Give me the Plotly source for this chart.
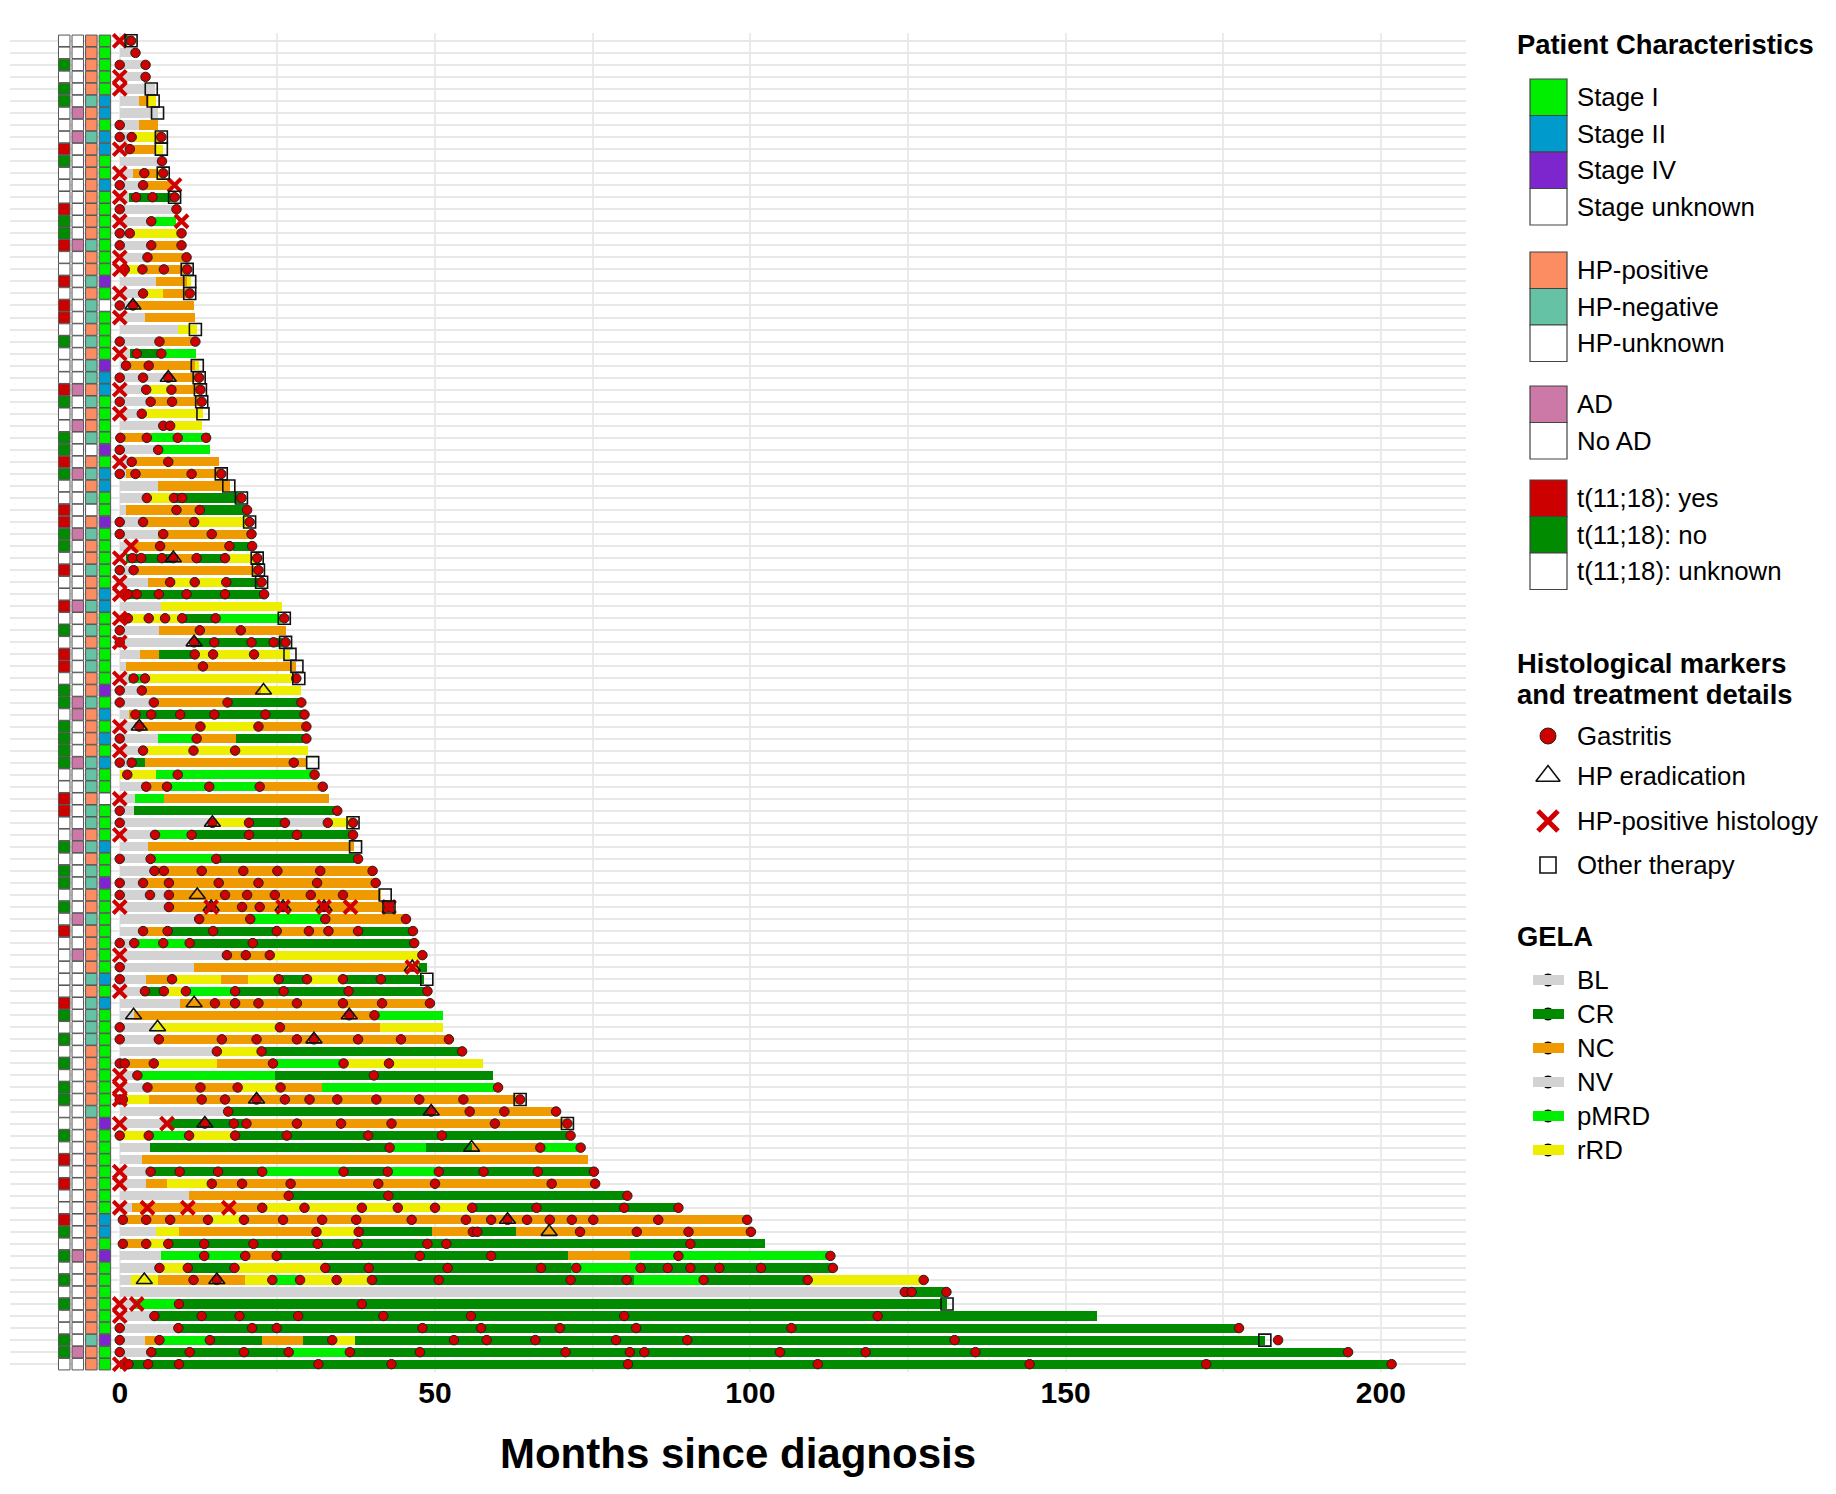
import plotly.graph_objects as go

W, H = 1836, 1494
FONT = "Liberation Sans"

# ---- patient characteristics, one code per patient, top row first ----
# t(11;18): Y yes, N no, U unknown
t1118 = list("UUNUNNUUUY" "NUUUYNNYUU" "YUYYUNUUUY" "NUUNNYNUUY" "YNNUYUUYUN"
             "UYYUNNUNNN" "NUUYYUUNUN" "NUNUYUUUUU" "YNUNUNUNNU" "UNUYUYUUYN"
             "UNUNUNUUNNU")
# autoimmune disease: A yes, N no
ad = list("NNNNNNANAN" "NNNNNNNANN" "NNNNNNNNNA" "NNANNNANNN" "NANNNNNANN"
          "NNNNNAANNN" "ANNNNNAANN" "NNNANNANNN" "NNNNNNNNNN" "NNNNNNNNNN"
          "NANNNNNNNAN")
# HP status: P positive, G negative, U unknown
hp = list("PPPPPGPPGP" "PPPPPPPGPP" "GPGGPGPGGP" "GPPGUPGPGU" "PGPPGPPGPG"
          "PGGPPGPPPP" "GGGPGGPGPG" "GPPGPPPPGP" "GGGGPPPPPG" "PPPPPPPPPP"
          "PPPPPPPPGPP")
# stage: 1 = I, 2 = II, 4 = IV, U unknown
stage = list("1111122122" "1121111111" "41U1111422" "1111412211" "4111112211"
             "1111412121" "211U111211" "4111111121" "2111111111" "4111111122"
             "14111111411")

# ---- GELA response over time: "status:end_month" segments from 0 ----
gela = [
    "NV:1 CR:2", "BL:2.3", "BL:4.1", "BL:4.1", "BL:5.6",
    "BL:3.1 NC:4.6 rRD:5.8", "BL:6.1", "BL:3.1 NC:6.1", "BL:1.9 rRD:5.8 NC:6.7",
    "BL:1.5 NC:5.8 rRD:6.8", "BL:6.7", "BL:2.1 NC:6.1 rRD:7.0", "BL:4.2 NC:8.2",
    "BL:1.5 CR:8.5", "BL:9.0", "BL:5.0 pMRD:9.0", "BL:1.6 rRD:9.8", "BL:5.0 NC:9.8",
    "BL:4.2 NC:10.6", "rRD:4.2 NC:10.3 rRD:11.0", "BL:5.8 NC:10.6 rRD:11.3",
    "BL:3.7 rRD:6.9 NC:10.6 rRD:11.3", "BL:2.3 NC:11.7", "BL:4.0 NC:12.0",
    "BL:9.3 rRD:12.3", "BL:6.3 NC:12.0", "BL:1.6 CR:6.6 pMRD:12.1",
    "BL:0.5 NC:12.0 rRD:12.5", "BL:7.7 NC:12.8", "BL:4.7 rRD:8.2 NC:12.9",
    "BL:5.3 NC:13.1", "BL:3.7 rRD:13.2", "BL:6.9 rRD:13.1", "NC:5.0 pMRD:14.3",
    "BL:6.1 pMRD:14.3", "BL:1.6 NC:15.8", "BL:1.0 NC:16.3", "BL:6.1 NC:17.5",
    "BL:4.5 rRD:8.6 CR:19.3", "BL:1.0 NC:12.7 CR:20.2", "BL:3.7 NC:12.2 rRD:20.6",
    "BL:6.1 NC:20.9", "BL:2.0 NC:17.9 CR:21.0", "BL:1.0 CR:8.5 NC:12.2 CR:16.7 rRD:21.6",
    "BL:2.6 NC:21.9", "BL:4.5 NC:8.0 rRD:17.4 CR:22.5", "BL:1.0 CR:22.9",
    "BL:6.6 rRD:25.8", "rRD:9.9 CR:15.2 pMRD:25.5", "BL:6.3 NC:26.3",
    "BL:12.0 CR:25.9", "BL:3.2 NC:6.3 CR:11.9 rRD:27.0", "BL:1.0 NC:28.0",
    "BL:1.5 pMRD:4.0 rRD:28.4", "BL:3.5 NC:22.4 rRD:28.7", "BL:5.4 NC:17.1 CR:28.8",
    "BL:1.5 NC:3.0 CR:29.3", "BL:2.5 NC:12.8 rRD:22.0 NC:29.6",
    "BL:6.1 pMRD:12.0 NC:18.4 CR:29.6", "BL:3.3 rRD:29.9", "BL:1.3 CR:4.0 NC:29.6",
    "rRD:5.7 pMRD:30.9", "BL:3.5 NC:7.5 pMRD:22.2 NC:32.2", "BL:2.5 pMRD:7.0 NC:33.2",
    "BL:2.3 CR:34.5", "BL:14.7 rRD:20.5 CR:26.2 NV:32.8 rRD:37.0",
    "BL:5.6 pMRD:11.4 CR:37.0", "BL:4.5 NC:37.2", "BL:4.9 pMRD:15.3 CR:37.8",
    "BL:5.5 NC:40.1", "BL:3.7 NC:40.6", "BL:7.8 NC:41.5", "BL:7.8 NC:42.7",
    "BL:12.6 NC:20.7 pMRD:32.6 NC:45.4", "BL:3.7 NC:7.6 CR:24.9 NC:37.8 CR:46.5",
    "BL:2.3 pMRD:11.1 CR:46.7", "BL:16.9 NC:24.0 rRD:48.0", "BL:11.7 NC:47.5 CR:48.7",
    "BL:4.2 NC:8.3 rRD:16.0 NC:20.4 rRD:25.2 CR:29.7 rRD:35.4 CR:48.3",
    "BL:3.5 CR:7.3 rRD:10.5 pMRD:18.3 CR:48.8", "BL:9.6 NC:49.2",
    "BL:2.2 NC:40.5 pMRD:51.2", "BL:5.6 rRD:25.4 NC:41.2 rRD:51.2", "BL:6.2 NC:52.2",
    "BL:15.4 rRD:22.5 CR:54.3", "NC:5.4 rRD:15.5 NC:24.3 pMRD:35.5 rRD:57.6",
    "BL:2.8 pMRD:24.6 CR:59.2", "BL:4.4 NC:19.2 rRD:25.5 NC:32.1 pMRD:60.0",
    "rRD:4.6 NC:63.3", "BL:17.2 CR:49.4 NC:69.2", "BL:8.0 CR:20.1 NC:71.0",
    "rRD:4.6 pMRD:11.0 rRD:18.3 CR:71.5",
    "BL:4.8 CR:42.8 pMRD:48.5 CR:55.8 NC:66.9 pMRD:73.1", "BL:3.6 NC:74.2",
    "BL:4.9 CR:22.6 pMRD:35.5 CR:42.5 pMRD:50.6 CR:75.2",
    "BL:4.2 NC:7.5 rRD:14.2 NC:75.6", "BL:11.0 NC:26.8 CR:80.5",
    "BL:2.0 NC:22.6 rRD:55.9 CR:88.6", "NC:14.0 rRD:19.7 NC:99.5",
    "BL:5.8 rRD:9.4 NC:31.2 rRD:38.0 CR:49.6 NC:56.3 CR:62.8 NC:100.1",
    "NC:3.9 rRD:7.6 CR:102.4", "BL:6.5 pMRD:20.0 NC:24.9 CR:71.1 NC:80.9 pMRD:112.7",
    "BL:6.3 rRD:10.8 CR:18.0 rRD:32.4 CR:71.5 pMRD:82.6 CR:113.1",
    "BL:1.8 rRD:6.1 NC:19.8 rRD:24.0 pMRD:28.4 rRD:40.0 CR:81.5 pMRD:92.8 CR:109.4 rRD:127.5",
    "NV:124.5 CR:131.1", "BL:2.5 pMRD:9.4 CR:131.2", "BL:5.5 CR:155.0",
    "BL:9.3 CR:177.5",
    "BL:4.0 NC:6.3 pMRD:14.3 CR:22.6 NC:29.1 CR:33.7 rRD:37.3 CR:181.6",
    "BL:5.0 CR:26.8 pMRD:36.5 CR:194.8", "CR:202.0",
]

# ---- histology events (months) ----
gastritis = [
    [1.8], [2.5], [0, 4.1], [4.1], [], [], [], [0], [0, 1.9, 6.6], [1.6],
    [6.7], [3.9, 6.9], [0, 3.7], [2.6, 5.2, 8.7], [0, 9.0], [5.0], [0, 1.6, 9.8],
    [0, 5.0, 9.8], [4.4, 10.6], [0.8, 3.6, 7.0, 10.7],
    [], [3.7, 11.1], [0, 2.1], [], [], [0, 6.3, 12.0], [2.7, 6.6], [1.0, 4.6],
    [0, 3.7, 7.7, 12.6], [4.2, 8.2, 12.8],
    [0, 4.9, 8.3, 13.0], [3.5], [6.9, 8.0], [0.1, 4.3, 9.2, 13.7], [0, 6.1],
    [1.9, 7.7], [0, 2.5, 11.4, 16.1], [], [4.3, 8.6, 9.9, 19.3], [9.0, 12.7, 20.2],
    [0, 3.7, 11.8, 20.6], [0, 6.9, 14.6, 20.9], [6.4, 17.4, 21.0],
    [2.0, 3.4, 6.7, 8.5, 12.2, 16.7, 21.8], [0, 2.2, 22.0], [8.0, 11.9, 16.9, 22.5],
    [1.3, 2.7, 6.2, 10.6, 16.7, 22.9], [], [1.3, 4.6, 7.2, 9.9, 15.2, 26.1],
    [0, 12.7, 19.2],
    [0, 11.8, 15.0, 20.9, 24.4, 26.3], [11.9, 14.8, 21.3], [13.2], [2.2, 4.0, 28.0],
    [0, 3.5], [0, 5.4, 17.1, 28.8], [2.5, 5.0, 9.6, 15.0, 23.1, 29.3],
    [3.1, 12.8, 22.0, 29.6], [0, 12.2, 29.6], [3.7, 11.7, 18.3],
    [0, 1.9, 27.6], [1.2, 9.2, 30.9], [4.2, 7.5, 14.2, 22.2, 32.2], [], [0, 34.5],
    [0, 14.7, 20.5, 26.2, 33.0, 37.0], [5.6, 11.4, 20.5, 28.1, 37.0], [],
    [0, 4.9, 15.3, 37.8], [5.5, 7.0, 13.0, 19.6, 25.0, 31.8, 40.1],
    [0, 3.7, 7.8, 15.7, 22.0, 31.3, 40.6], [0, 4.8, 7.8, 16.7, 20.2, 24.6, 30.3, 35.4],
    [7.8, 14.5, 19.4, 22.2, 25.9, 32.4, 42.7], [12.6, 20.7, 32.6, 45.4],
    [3.7, 7.6, 14.8, 24.9, 30.0, 33.1, 37.8, 46.5], [0, 2.3, 6.9, 11.1, 21.1, 46.7],
    [17.0, 20.0, 23.8, 48.0], [0], [0, 8.3, 25.2, 29.7, 35.4, 41.4],
    [4.0, 7.0, 10.5, 18.3, 26.0, 36.3, 48.8],
    [15.1, 18.3, 22.0, 28.1, 35.4, 41.6, 49.2], [36.4, 40.4], [0, 25.4],
    [0, 6.2, 16.2, 21.7, 28.1, 30.8, 37.8, 44.6, 52.2], [15.4, 22.5, 54.3],
    [0, 0.8, 5.4, 24.3, 35.5, 42.7], [2.8, 40.3], [4.4, 12.8, 18.7, 25.5, 60.0],
    [0, 0.5, 13.0, 16.7, 21.7, 26.2, 30.1, 34.5, 40.7, 47.5, 54.5, 63.5],
    [17.2, 49.4, 55.5, 61.0, 69.2],
    [13.5, 18.1, 20.1, 28.1, 35.1, 43.1, 59.5, 71.0],
    [0, 4.6, 11.0, 18.3, 26.5, 39.4, 51.1, 71.5], [42.8, 66.7, 73.1], [],
    [4.9, 9.5, 15.6, 22.6, 35.5, 42.5, 50.6, 57.7, 66.3, 75.2],
    [14.6, 19.4, 27.1, 41.0, 50.0, 68.5, 75.4], [26.8, 42.6, 80.5],
    [22.6, 29.3, 38.4, 44.1, 50.0, 55.9, 66.1, 80.0, 88.6],
    [0.5, 4.2, 8.0, 14.0, 19.7, 25.9, 32.1, 37.5, 46.3, 54.9, 58.9, 61.5, 64.6,
     68.2, 71.7, 75.1, 85.4, 99.5],
    [31.2, 37.9, 56.0, 56.7, 73.0, 82.0, 90.2, 100.1],
    [0.5, 4.2, 7.7, 13.4, 21.2, 31.4, 37.7, 48.8, 51.8, 90.5],
    [13.4, 19.9, 24.9, 47.6, 58.9, 88.6, 112.7],
    [6.3, 10.8, 18.2, 32.6, 39.5, 52.0, 66.8, 72.4, 82.6, 86.9, 90.5, 95.1, 101.7, 113.1],
    [11.7, 15.4, 24.2, 28.6, 34.4, 40.0, 50.6, 71.5, 80.4, 92.6, 109.1, 127.5],
    [124.5, 125.6, 131.1], [9.4, 38.4],
    [5.5, 13.0, 19.0, 28.3, 41.8, 55.7, 80.0, 120.2],
    [0, 9.3, 21.0, 24.9, 48.0, 57.3, 69.8, 81.9, 106.5, 177.5],
    [0, 6.3, 14.3, 33.7, 53.0, 58.2, 65.9, 78.7, 90.0, 132.4, 183.7],
    [0, 5.0, 11.1, 19.7, 26.8, 36.5, 47.6, 70.7, 80.9, 83.2, 104.7, 118.3, 135.7, 194.8],
    [1.4, 4.5, 9.4, 31.5, 43.1, 80.6, 110.7, 144.3, 172.3, 201.7],
]

# row index -> months
hp_eradication = {
    22: [2.1], 28: [7.7], 43: [8.5], 50: [11.8], 54: [22.8], 57: [3.1], 65: [14.7],
    71: [12.3], 72: [14.5, 25.9, 32.4], 77: [46.4], 80: [11.8], 81: [2.2, 36.4],
    82: [6.0], 83: [30.8], 88: [21.7], 89: [49.4], 90: [13.5], 92: [55.8],
    98: [61.5], 99: [68.1], 103: [3.9, 15.4],
}
hp_positive = {
    0: [0], 3: [0], 4: [0], 9: [0], 11: [0], 12: [8.7], 13: [0], 15: [0, 9.8],
    18: [0], 19: [0], 21: [0], 23: [0], 26: [0], 29: [0], 31: [0], 35: [0],
    42: [1.8], 43: [0], 45: [0], 46: [0], 48: [0], 50: [0], 53: [0], 57: [0],
    59: [0], 63: [0], 66: [0], 72: [0, 14.5, 25.9, 32.4, 36.6, 42.7], 76: [0],
    77: [46.4], 79: [0], 86: [0], 87: [0], 88: [0], 90: [0, 7.5], 94: [0], 95: [0],
    97: [0, 4.4, 10.8, 17.3], 105: [0, 2.7], 106: [0], 110: [0],
}
other_therapy = {
    0: [1.8], 4: [5.0], 5: [5.3], 6: [6.0], 8: [6.6], 9: [6.6], 11: [6.9], 13: [8.7],
    19: [10.7], 20: [11.1], 21: [11.1], 24: [12.0], 27: [12.3], 28: [12.6],
    29: [12.8], 30: [13.0], 31: [13.2], 36: [16.1], 37: [17.3], 38: [19.3],
    40: [20.6], 43: [21.8], 44: [22.0], 45: [22.5], 48: [26.1], 50: [26.3],
    51: [27.0], 52: [28.1], 53: [28.4], 60: [30.6], 65: [37.0], 67: [37.4],
    71: [42.1], 72: [42.7], 78: [48.7], 88: [63.5], 90: [71.0], 105: [131.2],
    108: [181.6],
}

gela_colors = {"BL": "#D3D3D3", "CR": "#008B00", "NC": "#EE9A00",
               "NV": "#D3D3D3", "pMRD": "#00EE00", "rRD": "#EEEE00"}
t_colors = {"Y": "#CD0000", "N": "#008B00", "U": "white"}
ad_colors = {"A": "#CC79A7", "N": "white"}
hp_colors = {"P": "#FC8D62", "G": "#66C2A5", "U": "white"}
stage_colors = {"1": "#00EE00", "2": "#009ACD", "4": "#7D26CD", "U": "white"}
RED = "#D00000"

n = len(gela)
rows = list(range(n))

fig = go.Figure()

# GELA bars, one trace per response category
for status, color in gela_colors.items():
    ys, bases, lens = [], [], []
    for i, row in enumerate(gela):
        start = 0.0
        for part in row.split():
            s, end = part.split(":")
            end = float(end)
            if s == status:
                ys.append(i)
                bases.append(start)
                lens.append(end - start)
            start = end
    fig.add_trace(go.Bar(y=ys, x=lens, base=bases, orientation="h", width=0.76,
                         marker=dict(color=color, line_width=0),
                         hoverinfo="skip", showlegend=False))

# characteristic tiles left of the bars
char_cols = [(t1118, t_colors, -8.8), (ad, ad_colors, -6.65),
             (hp, hp_colors, -4.5), (stage, stage_colors, -2.35)]
for codes, cmap, xpos in char_cols:
    fig.add_trace(go.Scatter(
        x=[xpos] * n, y=rows, mode="markers", hoverinfo="skip", showlegend=False,
        marker=dict(symbol="square", size=11.5, color=[cmap[c] for c in codes],
                    line=dict(color="#555555", width=1))))


def flatten(events):
    xs, ys = [], []
    items = enumerate(events) if isinstance(events, list) else events.items()
    for i, months in items:
        for m in months:
            xs.append(m)
            ys.append(i)
    return xs, ys


gx, gy = flatten(gastritis)
fig.add_trace(go.Scatter(x=gx, y=gy, mode="markers", hoverinfo="skip", showlegend=False,
                         marker=dict(symbol="circle", size=9.5, color=RED,
                                     line=dict(color="#222222", width=1))))
ex, ey = flatten(hp_eradication)
fig.add_trace(go.Scatter(x=ex, y=ey, mode="markers", hoverinfo="skip", showlegend=False,
                         marker=dict(symbol="triangle-up-open", size=14, color="#111111",
                                     line=dict(width=1.6))))
px_, py_ = flatten(hp_positive)
fig.add_trace(go.Scatter(x=px_, y=py_, mode="markers", hoverinfo="skip", showlegend=False,
                         marker=dict(symbol="x-thin", size=13,
                                     line=dict(color=RED, width=4))))
ox, oy = flatten(other_therapy)
fig.add_trace(go.Scatter(x=ox, y=oy, mode="markers", hoverinfo="skip", showlegend=False,
                         marker=dict(symbol="square-open", size=12, color="#111111",
                                     line=dict(width=1.6))))

# ---- hand-drawn legend on an overlay axis measured in pixels ----
shapes, annots = [], []
LX0, LX1, TX, MX = 1530, 1567, 1575, 1548
LSIZE, TSIZE = 25.8, 27.4


def label(x, y, text, size=LSIZE, bold=False):
    annots.append(dict(x=x, y=y, xref="x2", yref="y2", showarrow=False,
                       xanchor="left", yanchor="middle",
                       text=f"<b>{text}</b>" if bold else text,
                       font=dict(family=FONT, size=size, color="black")))


label(1515, 44, "Patient Characteristics", TSIZE, True)
groups = [
    (79, [("Stage I", stage_colors["1"]), ("Stage II", stage_colors["2"]),
          ("Stage IV", stage_colors["4"]), ("Stage unknown", "white")]),
    (252, [("HP-positive", hp_colors["P"]), ("HP-negative", hp_colors["G"]),
           ("HP-unknown", "white")]),
    (386, [("AD", ad_colors["A"]), ("No AD", "white")]),
    (480, [("t(11;18): yes", t_colors["Y"]), ("t(11;18): no", t_colors["N"]),
           ("t(11;18): unknown", "white")]),
]
KH = 36.5
for top, items in groups:
    for k, (name, col) in enumerate(items):
        y0 = top + k * KH
        shapes.append(dict(type="rect", xref="x2", yref="y2", x0=LX0, x1=LX1,
                           y0=y0, y1=y0 + KH, fillcolor=col,
                           line=dict(color="#444444", width=1.2)))
        label(TX, y0 + KH / 2, name)

label(1515, 663, "Histological markers", TSIZE, True)
label(1515, 694, "and treatment details", TSIZE, True)
hist_items = [
    ("Gastritis", 736, dict(symbol="circle", size=16, color=RED,
                            line=dict(color="#222222", width=1))),
    ("HP eradication", 776, dict(symbol="triangle-up-open", size=21, color="#111111",
                                 line=dict(width=1.6))),
    ("HP-positive histology", 821, dict(symbol="x-thin", size=20,
                                        line=dict(color=RED, width=5))),
    ("Other therapy", 865, dict(symbol="square-open", size=16, color="#111111",
                                line=dict(width=1.6))),
]
for name, y, mk in hist_items:
    fig.add_trace(go.Scatter(x=[MX], y=[y], xaxis="x2", yaxis="y2", mode="markers",
                             marker=mk, hoverinfo="skip", showlegend=False))
    label(TX, y, name)

label(1515, 936, "GELA", TSIZE, True)
for k, status in enumerate(gela_colors):
    y = 980 + k * 34
    shapes.append(dict(type="rect", xref="x2", yref="y2", x0=1533, x1=1564,
                       y0=y - 5, y1=y + 5, fillcolor=gela_colors[status], line_width=0))
    fig.add_trace(go.Scatter(x=[MX], y=[y], xaxis="x2", yaxis="y2", mode="markers",
                             marker=dict(symbol="circle", size=13, color="black"),
                             hoverinfo="skip", showlegend=False))
    label(TX, y, status)

fig.update_layout(
    width=W, height=H,
    margin=dict(l=0, r=0, t=0, b=0, pad=0),
    paper_bgcolor="white", plot_bgcolor="rgba(0,0,0,0)",
    barmode="overlay", bargap=0,
    font=dict(family=FONT, color="black"),
    shapes=shapes, annotations=annots,
    xaxis=dict(domain=[10 / W, 1466 / W], range=[-17.4, 213.5],
               tickvals=[0, 50, 100, 150, 200], ticks="",
               tickfont=dict(size=30, weight="bold", color="black"),
               showgrid=True, gridcolor="#EBEBEB", gridwidth=2,
               minor=dict(tickvals=[25, 75, 125, 175], showgrid=True,
                          gridcolor="#EBEBEB", gridwidth=1.5),
               zeroline=False, showline=False, automargin=False,
               title=dict(text="Months since diagnosis", standoff=30,
                          font=dict(size=42, weight="bold", color="black"))),
    yaxis=dict(domain=[1 - 1372 / H, 1 - 33 / H], range=[n - 0.35, -0.65],
               tickvals=rows, showticklabels=False, ticks="",
               showgrid=True, gridcolor="#E8E8E8", gridwidth=2,
               zeroline=False, showline=False, automargin=False),
    xaxis2=dict(domain=[0, 1], range=[0, W], anchor="y2", visible=False,
                fixedrange=True),
    yaxis2=dict(domain=[0, 1], range=[H, 0], anchor="x2", visible=False,
                fixedrange=True),
)

# drop the browser's default page margin so the figure sits at the window origin
fig.write_html("out.html", config={"displayModeBar": False},
               post_script="document.body.style.margin = '0';")
